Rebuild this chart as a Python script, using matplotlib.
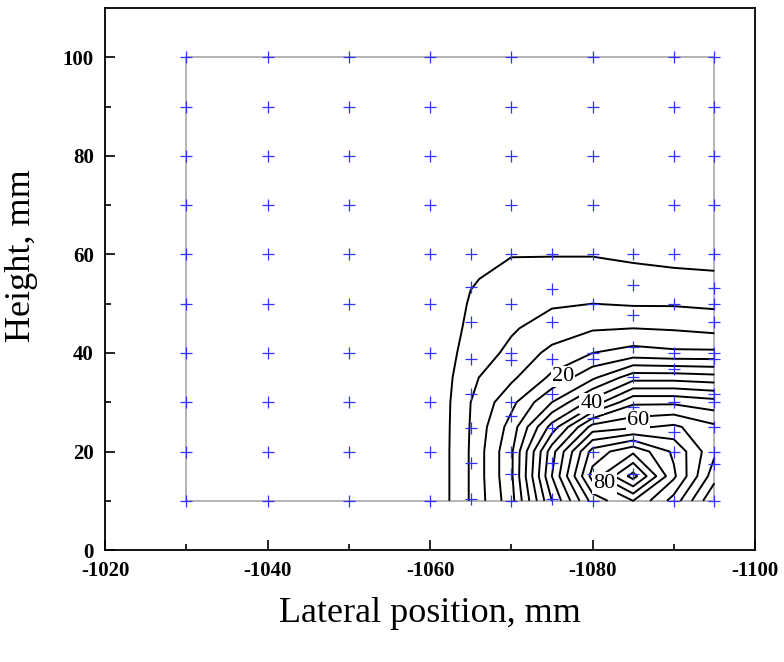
import numpy as np
import matplotlib
matplotlib.use("Agg")
import matplotlib.pyplot as plt
from matplotlib.ticker import FixedLocator

plt.rcParams['font.family'] = ['Liberation Serif', 'DejaVu Serif']
plt.rcParams['axes.unicode_minus'] = False

# measured field (contour data) on a regular grid, lower right of the domain
grid_x = [-1060, -1065, -1070, -1075, -1080, -1085, -1090, -1095]
grid_y = [10, 15, 20, 25, 30, 35, 40, 45, 50, 55, 60]
# rows follow grid_y, columns follow grid_x
grid_z = [
    [0, 10.5, 23.0, 50.0, 72.0, 80.0, 68.0, 50.0],
    [0, 10.5, 24.0, 55.0, 82.0, 97.0, 76.0, 57.0],
    [0, 10.5, 24.0, 53.0, 77.0, 84.0, 74.0, 61.0],
    [0, 10.3, 22.0, 42.0, 62.0, 64.0, 66.0, 61.0],
    [0, 10.0, 18.5, 30.0, 42.0, 54.0, 54.0, 52.0],
    [0, 9.0, 14.0, 21.0, 29.0, 38.0, 38.0, 37.0],
    [0, 7.5, 11.0, 16.5, 20.0, 22.0, 21.0, 21.0],
    [0, 6.3, 9.5, 12.0, 14.5, 15.0, 14.5, 13.5],
    [0, 5.5, 8.0, 9.5, 10.0, 9.5, 9.5, 9.0],
    [0, 4.6, 6.5, 7.0, 7.0, 6.5, 6.0, 6.0],
    [0, 2.5, 4.8, 4.8, 4.8, 4.2, 3.8, 3.0],
]
levels = [5, 10, 15, 20, 25, 30, 35, 40, 45, 50, 55, 60, 65, 70, 75, 80, 85, 90, 95]
label_levels = [20, 40, 60, 80]
label_pos = [(-1076.4, 35.2), (-1079.9, 29.7), (-1085.6, 26.3), (-1081.5, 13.6)]

# measurement points: coarse grid
coarse_x = [-1030, -1040, -1050, -1060, -1070, -1080, -1090, -1095]
coarse_y = [10, 20, 30, 40, 50, 60, 70, 80, 90, 100]
# extra (finer) points near the corner
fine_x = [-1065] * 8 + [-1075] * 8 + [-1085] * 8 + [-1070] * 3 + [-1080] * 3 + [-1090] * 2 + [-1095] * 6
fine_y = [60, 53.4, 46.3, 38.8, 31.7, 24.8, 17.6, 10.3,
          60, 52.9, 46.3, 38.8, 31.7, 24.8, 17.6, 10.3,
          60, 53.8, 47.7, 41.2, 35.1, 29.0, 22.2, 15.4,
          38.5, 27.3, 15.4,
          38.8, 26.9, 15.4,
          36.8, 23.9,
          53.1, 46.3, 38.8, 31.7, 24.9, 17.5]

# domain outline
dom_x = [-1030, -1095, -1095, -1030, -1030]
dom_y = [10, 10, 100, 100, 10]

fig = plt.figure(figsize=(7.84, 6.62), dpi=100)
ax = fig.add_axes([0.134, 0.169, 0.829, 0.819])

ax.plot(dom_x, dom_y, color='#a8a8a8', lw=1.2, zorder=1)

X, Y = np.meshgrid(grid_x, grid_y)
cs = ax.contour(X, Y, np.array(grid_z), levels=levels, colors='black', linewidths=1.4, zorder=2)

cx, cy = np.meshgrid(coarse_x, coarse_y)
ax.plot(cx.ravel(), cy.ravel(), '+', color='#3030ff', ms=8, mew=0.9, zorder=3)
ax.plot(fine_x, fine_y, '+', color='#3030ff', ms=8, mew=0.9, zorder=3)

# contour labels, horizontal with a white patch behind them
for lv, (lx, ly) in zip(label_levels, label_pos):
    ax.text(lx, ly, str(lv), fontsize=16, ha='center', va='center', zorder=4,
            bbox=dict(boxstyle='square,pad=0.05', fc='white', ec='none'))

ax.set_xlim(-1020, -1100)
ax.set_ylim(0, 110)
ax.xaxis.set_major_locator(FixedLocator([-1020, -1040, -1060, -1080, -1100]))
ax.xaxis.set_minor_locator(FixedLocator([-1030, -1050, -1070, -1090]))
ax.yaxis.set_major_locator(FixedLocator([0, 20, 40, 60, 80, 100]))
ax.yaxis.set_minor_locator(FixedLocator([10, 30, 50, 70, 90]))
ax.tick_params(which='both', direction='in', top=False, right=False, width=1.2)
ax.tick_params(which='major', length=7, pad=8, labelsize=15)
ax.tick_params(which='minor', length=4.5)
for t in ax.get_xticklabels() + ax.get_yticklabels():
    t.set_fontweight('bold')
for s in ax.spines.values():
    s.set_linewidth(1.3)

ax.set_xlabel('Lateral position, mm', fontsize=26)
ax.set_ylabel('Height, mm', fontsize=26)
ax.xaxis.set_label_coords(0.5, -0.117)
ax.yaxis.set_label_coords(-0.128, 0.544)
ax.xaxis.label.set_va('center')
ax.yaxis.label.set_va('center')

fig.savefig('out.png', dpi=100)
